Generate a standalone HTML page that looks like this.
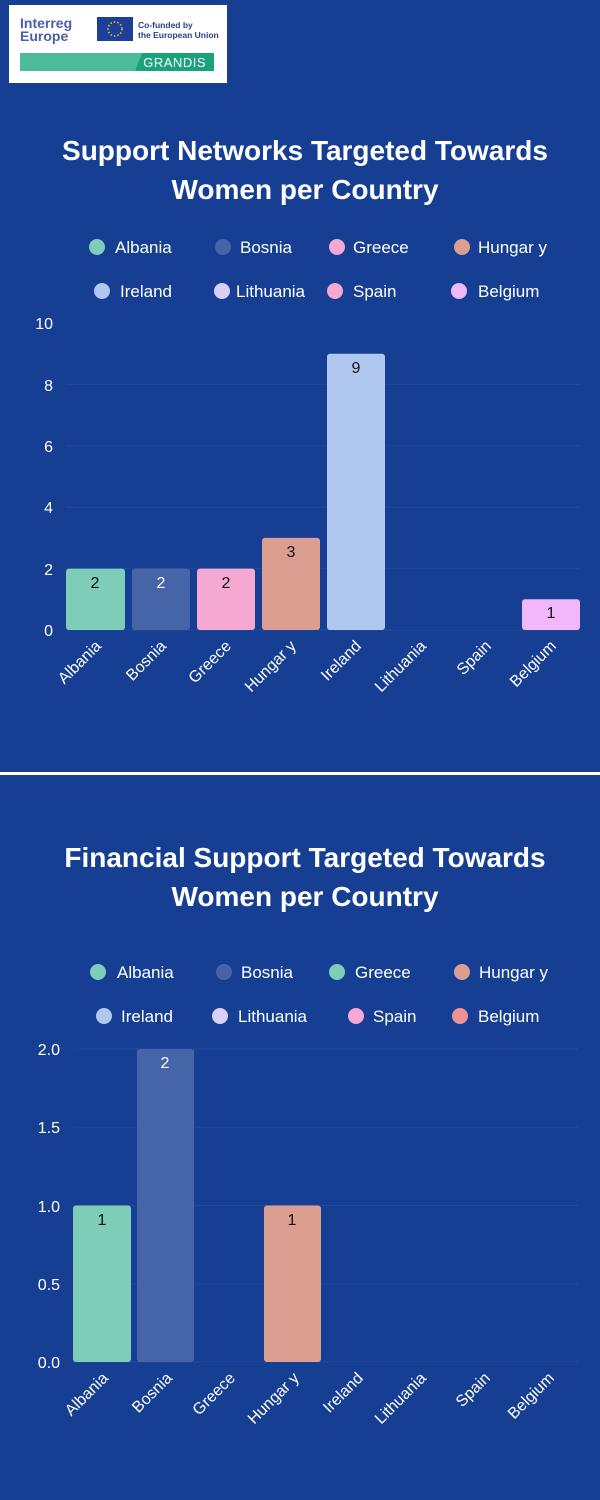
<!DOCTYPE html>
<html><head><meta charset="utf-8"><style>
html,body{margin:0;padding:0;background:#163f94;}
svg{display:block;font-family:"Liberation Sans",sans-serif;}
</style></head><body>
<svg width="600" height="1500" viewBox="0 0 600 1500" xmlns="http://www.w3.org/2000/svg">
<rect width="600" height="1500" fill="#163f94"/>
<!-- logo -->
<rect x="9" y="5" width="218" height="78" fill="#fff"/>
<text x="20" y="28" font-size="14" font-weight="bold" fill="#4a5fa8">Interreg</text>
<text x="20" y="41" font-size="14" font-weight="bold" fill="#4a5fa8">Europe</text>
<rect x="97" y="17" width="36" height="24" fill="#1d3f9a"/>
<circle cx="115" cy="29" r="7" fill="none" stroke="#f5d000" stroke-width="1.5" stroke-dasharray="1.5 2"/>
<text x="138" y="28" font-size="8.5" font-weight="bold" fill="#2a3f8a">Co-funded by</text>
<text x="138" y="38" font-size="8.5" font-weight="bold" fill="#2a3f8a">the European Union</text>
<rect x="20" y="53" width="194" height="18" fill="#4dbb9a"/>
<polygon points="142,53 214,53 214,71 135,71" fill="#1aa37a"/>
<text x="206" y="67" font-size="13" fill="#fff" text-anchor="end" letter-spacing="0.5">GRANDIS</text>

<!-- Chart 1 -->
<text x="305" y="160" font-size="28" font-weight="bold" fill="#fff" text-anchor="middle">Support Networks Targeted Towards</text>
<text x="305" y="199" font-size="28" font-weight="bold" fill="#fff" text-anchor="middle">Women per Country</text>
<g font-size="17" fill="#fff">
<circle cx="97" cy="247" r="8" fill="#7ecdb8"/><text x="115" y="253">Albania</text>
<circle cx="223" cy="247" r="8" fill="#4565a8"/><text x="240" y="253">Bosnia</text>
<circle cx="337" cy="247" r="8" fill="#f5a8d2"/><text x="353" y="253">Greece</text>
<circle cx="462" cy="247" r="8" fill="#dc9e90"/><text x="478" y="253">Hungar y</text>
<circle cx="102" cy="291" r="8" fill="#b0c8f0"/><text x="120" y="297">Ireland</text>
<circle cx="222" cy="291" r="8" fill="#d8d0f8"/><text x="236" y="297">Lithuania</text>
<circle cx="335" cy="291" r="8" fill="#f5a8d2"/><text x="353" y="297">Spain</text>
<circle cx="459" cy="291" r="8" fill="#f0b8f8"/><text x="478" y="297">Belgium</text>
</g>
<g stroke="#23499c" stroke-width="1">
<line x1="66" x2="580" y1="568.6" y2="568.6"/><line x1="66" x2="580" y1="507.2" y2="507.2"/>
<line x1="66" x2="580" y1="445.8" y2="445.8"/><line x1="66" x2="580" y1="384.4" y2="384.4"/>
<line x1="66" x2="580" y1="630" y2="630"/>
</g>
<g font-size="16" fill="#fff" text-anchor="end">
<text x="53" y="636">0</text><text x="53" y="575">2</text><text x="53" y="513">4</text>
<text x="53" y="452">6</text><text x="53" y="391">8</text><text x="53" y="329">10</text>
</g>
<rect x="66" y="568.6" width="59" height="61.4" rx="3" fill="#7ecdb8"/>
<rect x="132" y="568.6" width="58" height="61.4" rx="3" fill="#4565a8"/>
<rect x="197" y="568.6" width="58" height="61.4" rx="3" fill="#f5a8d2"/>
<rect x="262" y="537.9" width="58" height="92.1" rx="3" fill="#dc9e90"/>
<rect x="327" y="353.7" width="58" height="276.3" rx="3" fill="#b0c8f0"/>
<rect x="522" y="599.3" width="58" height="30.7" rx="3" fill="#f0b8f8"/>
<g font-size="16" text-anchor="middle">
<text x="95" y="588" fill="#111">2</text><text x="161" y="588" fill="#fff">2</text>
<text x="226" y="588" fill="#111">2</text><text x="291" y="557" fill="#111">3</text>
<text x="356" y="373" fill="#111">9</text><text x="551" y="618" fill="#111">1</text>
</g>
<g font-size="16" fill="#fff" text-anchor="end">
<text transform="translate(102,647) rotate(-45)">Albania</text>
<text transform="translate(167,647) rotate(-45)">Bosnia</text>
<text transform="translate(232,647) rotate(-45)">Greece</text>
<text transform="translate(297,647) rotate(-45)">Hungar y</text>
<text transform="translate(362,647) rotate(-45)">Ireland</text>
<text transform="translate(427,647) rotate(-45)">Lithuania</text>
<text transform="translate(492,647) rotate(-45)">Spain</text>
<text transform="translate(557,647) rotate(-45)">Belgium</text>
</g>

<rect x="0" y="772" width="600" height="3" fill="#fff"/>

<!-- Chart 2 -->
<text x="305" y="867" font-size="28" font-weight="bold" fill="#fff" text-anchor="middle">Financial Support Targeted Towards</text>
<text x="305" y="906" font-size="28" font-weight="bold" fill="#fff" text-anchor="middle">Women per Country</text>
<g font-size="17" fill="#fff">
<circle cx="98" cy="972" r="8" fill="#7ecdb8"/><text x="117" y="978">Albania</text>
<circle cx="224" cy="972" r="8" fill="#4565a8"/><text x="241" y="978">Bosnia</text>
<circle cx="337" cy="972" r="8" fill="#7ecdb8"/><text x="355" y="978">Greece</text>
<circle cx="462" cy="972" r="8" fill="#dc9e90"/><text x="479" y="978">Hungar y</text>
<circle cx="104" cy="1016" r="8" fill="#b0c8f0"/><text x="121" y="1022">Ireland</text>
<circle cx="220" cy="1016" r="8" fill="#d8d0f8"/><text x="238" y="1022">Lithuania</text>
<circle cx="356" cy="1016" r="8" fill="#f5a8d2"/><text x="373" y="1022">Spain</text>
<circle cx="460" cy="1016" r="8" fill="#f09098"/><text x="478" y="1022">Belgium</text>
</g>
<g stroke="#23499c" stroke-width="1">
<line x1="73" x2="578" y1="1283.75" y2="1283.75"/><line x1="73" x2="578" y1="1205.5" y2="1205.5"/>
<line x1="73" x2="578" y1="1127.25" y2="1127.25"/><line x1="73" x2="578" y1="1049" y2="1049"/>
<line x1="73" x2="578" y1="1362" y2="1362"/>
</g>
<g font-size="16" fill="#fff" text-anchor="end">
<text x="60" y="1368">0.0</text><text x="60" y="1290">0.5</text><text x="60" y="1212">1.0</text>
<text x="60" y="1133">1.5</text><text x="60" y="1055">2.0</text>
</g>
<rect x="73" y="1205.5" width="58" height="156.5" rx="3" fill="#7ecdb8"/>
<rect x="137" y="1049" width="57" height="313" rx="3" fill="#4565a8"/>
<rect x="264" y="1205.5" width="57" height="156.5" rx="3" fill="#dc9e90"/>
<g font-size="16" text-anchor="middle">
<text x="102" y="1225" fill="#111">1</text><text x="165" y="1068" fill="#fff">2</text>
<text x="292" y="1225" fill="#111">1</text>
</g>
<g font-size="16" fill="#fff" text-anchor="end">
<text transform="translate(109,1379) rotate(-45)">Albania</text>
<text transform="translate(173,1379) rotate(-45)">Bosnia</text>
<text transform="translate(236,1379) rotate(-45)">Greece</text>
<text transform="translate(300,1379) rotate(-45)">Hungar y</text>
<text transform="translate(364,1379) rotate(-45)">Ireland</text>
<text transform="translate(427,1379) rotate(-45)">Lithuania</text>
<text transform="translate(491,1379) rotate(-45)">Spain</text>
<text transform="translate(555,1379) rotate(-45)">Belgium</text>
</g>
</svg>
</body></html>
